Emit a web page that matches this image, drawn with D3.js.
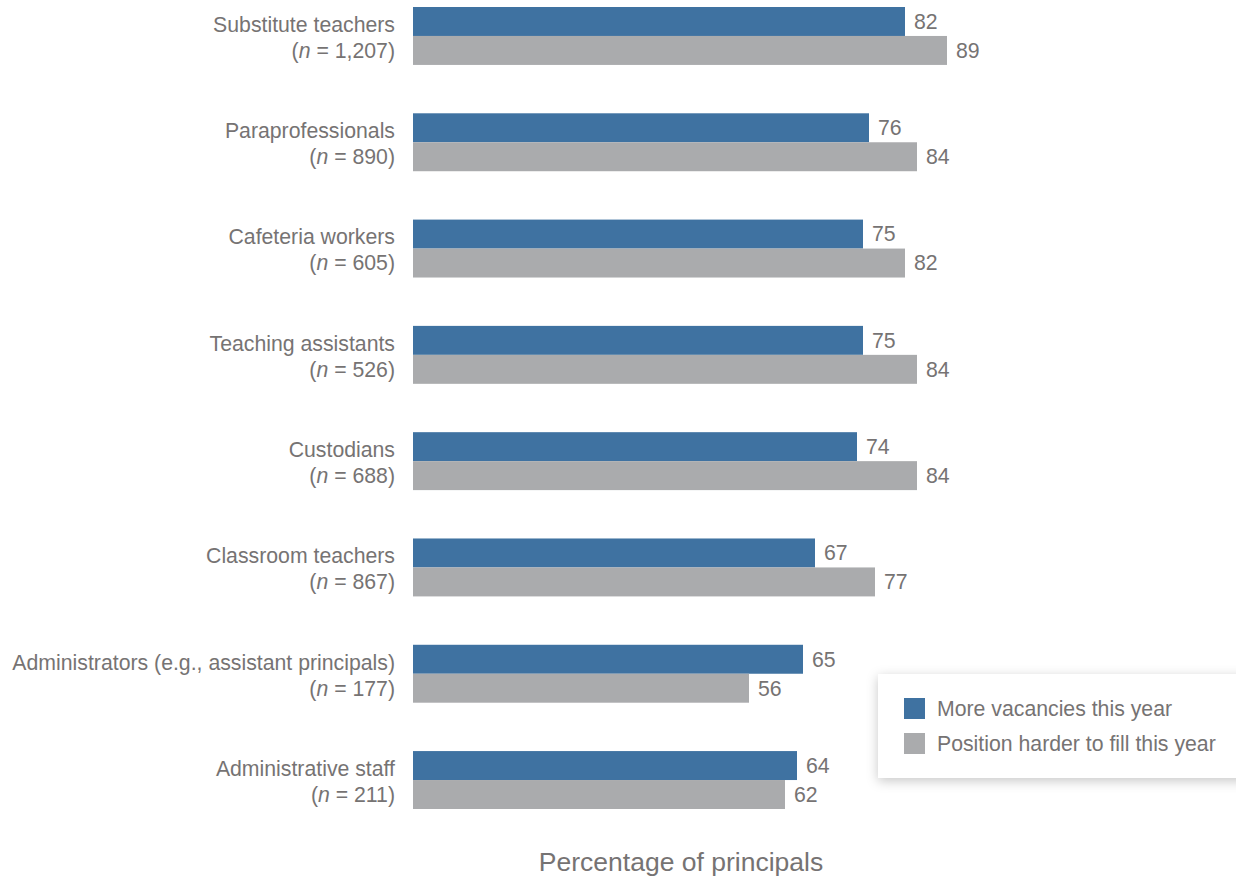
<!DOCTYPE html>
<html>
<head>
<meta charset="utf-8">
<script src="https://cdn.jsdelivr.net/npm/d3@7"></script>
<style>
  html, body { margin: 0; padding: 0; background: #fff; }
  svg { display: block; font-family: "Liberation Sans", Arial, Helvetica, sans-serif; }
</style>
</head>
<body>
<svg id="chart" width="1236" height="880"></svg>
<script>
// Staff categories, their sample sizes, and the two survey measures (percent of principals)
const categories = [
  "Substitute teachers",
  "Paraprofessionals",
  "Cafeteria workers",
  "Teaching assistants",
  "Custodians",
  "Classroom teachers",
  "Administrators (e.g., assistant principals)",
  "Administrative staff"
];
const sampleSizes = ["1,207", "890", "605", "526", "688", "867", "177", "211"];
const moreVacancies = [82, 76, 75, 75, 74, 67, 65, 64];
const harderToFill  = [89, 84, 82, 84, 84, 77, 56, 62];
const seriesNames = ["More vacancies this year", "Position harder to fill this year"];
const seriesColors = ["#3f72a1", "#aaabad"];
const axisTitle = "Percentage of principals";

const svg = d3.select("#chart");
const textColor = "#767373";
const fontSize = 21.25;

const x = d3.scaleLinear().domain([0, 100]).range([413, 1013]);
const y = d3.scaleBand().domain(categories).range([7, 809]).paddingInner(0.455).paddingOuter(0);
const ySub = d3.scaleBand().domain([0, 1]).range([0, y.bandwidth()]).padding(0);

const rows = categories.map((c, i) => ({
  category: c, n: sampleSizes[i], values: [moreVacancies[i], harderToFill[i]]
}));

const groups = svg.append("g").selectAll("g")
  .data(rows).join("g")
  .attr("transform", d => `translate(0,${y(d.category)})`);

// Bars
groups.selectAll("rect")
  .data(d => d.values.map((v, k) => ({ v, k })))
  .join("rect")
  .attr("x", x(0))
  .attr("y", d => ySub(d.k))
  .attr("width", d => x(d.v) - x(0))
  .attr("height", ySub.bandwidth())
  .attr("fill", d => seriesColors[d.k]);

// Value labels
groups.selectAll("text.val")
  .data(d => d.values.map((v, k) => ({ v, k })))
  .join("text")
  .attr("class", "val")
  .attr("x", d => x(d.v) + 9)
  .attr("y", d => ySub(d.k) + ySub.bandwidth() / 2)
  .attr("dy", "0.35em")
  .attr("font-size", fontSize)
  .attr("fill", textColor)
  .text(d => d.v);

// Category labels (two lines: name and sample size)
const labelX = 395;
groups.append("text")
  .attr("x", labelX)
  .attr("y", ySub(0) + ySub.bandwidth() / 2 + 3)
  .attr("dy", "0.35em")
  .attr("text-anchor", "end")
  .attr("font-size", fontSize)
  .attr("fill", textColor)
  .text(d => d.category);

const nLine = groups.append("text")
  .attr("x", labelX)
  .attr("y", ySub(1) + ySub.bandwidth() / 2)
  .attr("dy", "0.35em")
  .attr("text-anchor", "end")
  .attr("font-size", fontSize)
  .attr("fill", textColor);
nLine.append("tspan").text("(");
nLine.append("tspan").attr("font-style", "italic").text("n");
nLine.append("tspan").text(d => ` = ${d.n})`);

// Axis title
svg.append("text")
  .attr("x", 681)
  .attr("y", 862)
  .attr("dy", "0.35em")
  .attr("text-anchor", "middle")
  .attr("font-size", 26.5)
  .attr("fill", textColor)
  .text(axisTitle);

// Legend with soft drop shadow
const defs = svg.append("defs");
const f = defs.append("filter").attr("id", "shadow")
  .attr("x", "-20%").attr("y", "-30%").attr("width", "140%").attr("height", "160%");
f.append("feDropShadow").attr("dx", 0).attr("dy", 3).attr("stdDeviation", 6)
  .attr("flood-color", "#000").attr("flood-opacity", 0.22);

const legend = svg.append("g").attr("transform", "translate(878,674)");
legend.append("rect")
  .attr("width", 380).attr("height", 104)
  .attr("fill", "#fff")
  .attr("filter", "url(#shadow)");
const items = legend.selectAll("g.item")
  .data(seriesNames).join("g")
  .attr("class", "item")
  .attr("transform", (d, i) => `translate(26,${24 + i * 35})`);
items.append("rect")
  .attr("width", 21).attr("height", 21)
  .attr("fill", (d, i) => seriesColors[i]);
items.append("text")
  .attr("x", 33).attr("y", 10.5).attr("dy", "0.35em")
  .attr("font-size", fontSize)
  .attr("fill", textColor)
  .text(d => d);
</script>
</body>
</html>
